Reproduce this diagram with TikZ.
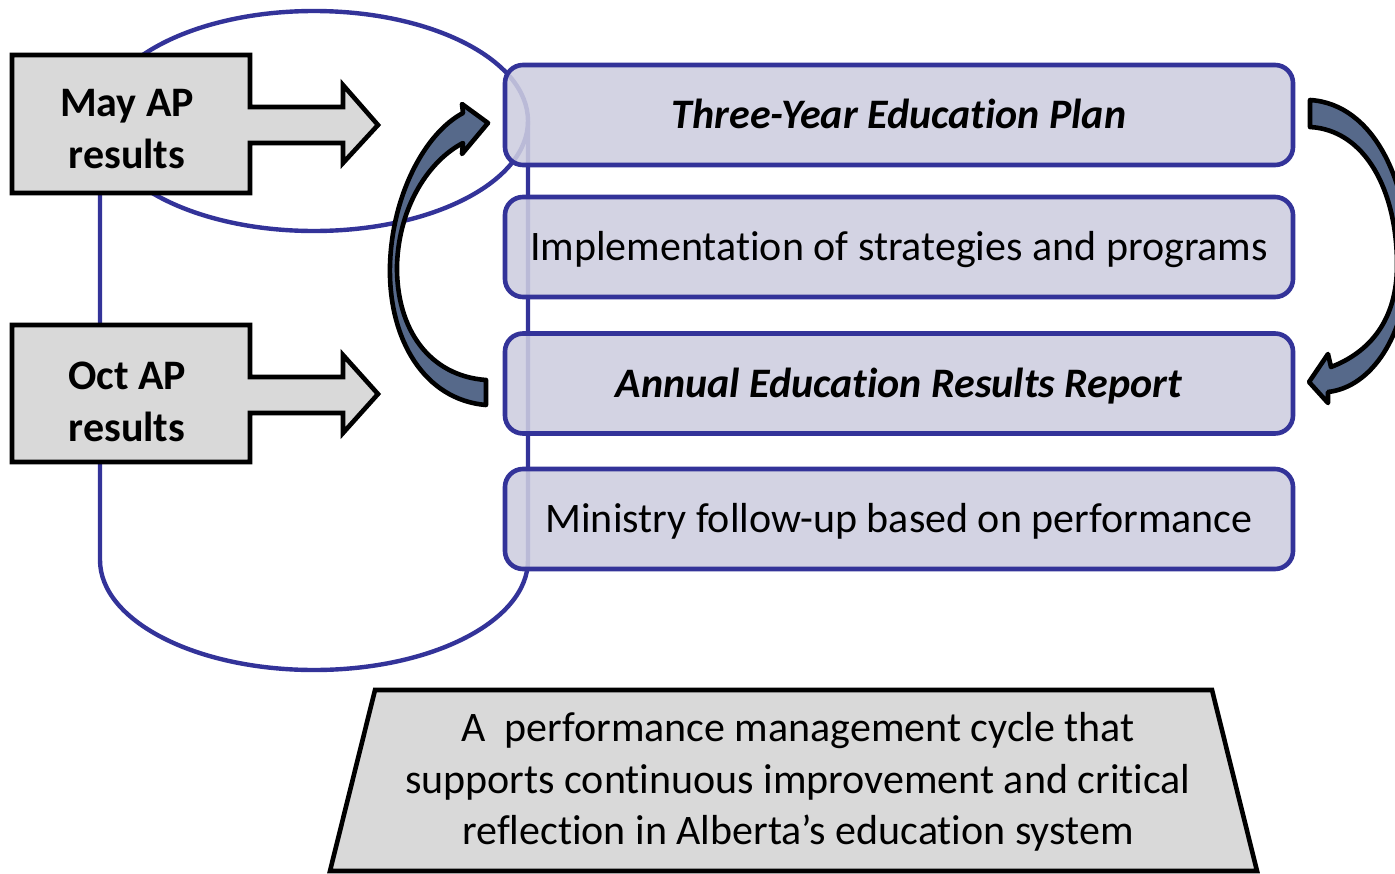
\documentclass[tikz,border=0pt]{standalone}
\usepackage{fontspec}
\setmainfont{Carlito}[Ligatures={NoCommon,NoContextual,NoRare},Contextuals=NoAlternate]
\newcommand{\brkl}{\kern0pt{}}
\definecolor{cylblue}{RGB}{51,51,153}
\definecolor{boxfill}{RGB}{205,205,224}
\definecolor{graybox}{RGB}{217,217,217}
\definecolor{arrowfill}{RGB}{86,105,138}
\tikzset{
  bigtext/.style={font=\fontsize{42}{51.5}\selectfont, align=center, inner sep=0pt},
  pbox/.style={draw=cylblue, line width=4.6pt, fill=boxfill, fill opacity=0.88, text opacity=1,
    rounded corners=18pt, minimum width=788pt, minimum height=100pt, inner sep=0pt,
    text height=31pt, text depth=4pt,
    font=\fontsize{42}{51.5}\selectfont},
  grayshape/.style={fill=graybox, draw=black, line width=4.6pt, line join=miter},
  curvearrow/.style={fill=arrowfill, draw=black, line width=4.6pt, line join=round},
  cylline/.style={draw=cylblue, line width=4.4pt}
}
\begin{document}
\begin{tikzpicture}[x=1pt,y=-1pt]
\useasboundingbox (0,0) rectangle (1395,873);
\fill[white] (0,0) rectangle (1395,873);
\begin{scope}
\clip (0,0) rectangle (1395,873);
% cylinder outline
\draw[cylline] (314,121) ellipse [x radius=214, y radius=110];
\draw[cylline] (100,121) -- (100,560) arc[start angle=180, end angle=0, x radius=214, y radius=110] -- (528,121);

% May AP box with block arrow
\filldraw[grayshape] (12,55) -- (250,55) -- (250,107) -- (343,107) -- (343,85) -- (378,125)
  -- (343,163) -- (343,143) -- (250,143) -- (250,193) -- (12,193) -- cycle;
\node[bigtext, font=\fontsize{42}{51.5}\selectfont\bfseries] (may) at (127,129) {May AP\\results};

% Oct AP box with block arrow
\begin{scope}[shift={(0,270)}]
\filldraw[grayshape] (12,55) -- (250,55) -- (250,107) -- (343,107) -- (343,85) -- (378,124)
  -- (343,163) -- (343,143) -- (250,143) -- (250,192) -- (12,192) -- cycle;
\node[bigtext, font=\fontsize{42}{51.5}\selectfont\bfseries] (oct) at (127,132) {Oct AP\\results};
\end{scope}

% purple boxes
\node[pbox, font=\fontsize{42}{51.5}\selectfont\bfseries\itshape] (plan) at (899,115) {Three-Year Educat\brkl ion Plan};
\node[pbox] (impl) at (899,247) {Implementat\brkl ion of strategies and programs};
\node[pbox, font=\fontsize{42}{51.5}\selectfont\bfseries\itshape] (report) at (899,383.5) {Annual Educat\brkl ion Results Report};
\node[pbox] (follow) at (899,519) {Ministry follow-up based on performance};

% left curved arrow (report -> plan)
\filldraw[curvearrow] (486,405) .. controls (425,400) and (388,340) .. (390,265)
  .. controls (392,195) and (425,133) .. (463,113)
  -- (462,104) -- (488,123) -- (462,154) -- (463,143)
  .. controls (430,160) and (399,205) .. (397,265)
  .. controls (396,330) and (430,376) .. (486,380) -- cycle;

% right curved arrow (plan -> report)
\filldraw[curvearrow] (1310,100) .. controls (1375,104) and (1410,185) .. (1408,265)
  .. controls (1406,335) and (1372,387) .. (1328,392)
  -- (1328,403) -- (1309,382) -- (1328,354) -- (1331,367)
  .. controls (1370,352) and (1397,320) .. (1397,265)
  .. controls (1397,190) and (1365,130) .. (1310,127) -- cycle;

% bottom trapezoid
\filldraw[grayshape] (375,690) -- (1212,690) -- (1257,871) -- (330,871) -- cycle;
\node[bigtext] (summary) at (798,782) {A\ \ performance management cycle that\\supports continuous improvement and crit\brkl ical\\ref\brkl lect\brkl ion in Alberta’s educat\brkl ion system};
\end{scope}
\end{tikzpicture}
\end{document}
